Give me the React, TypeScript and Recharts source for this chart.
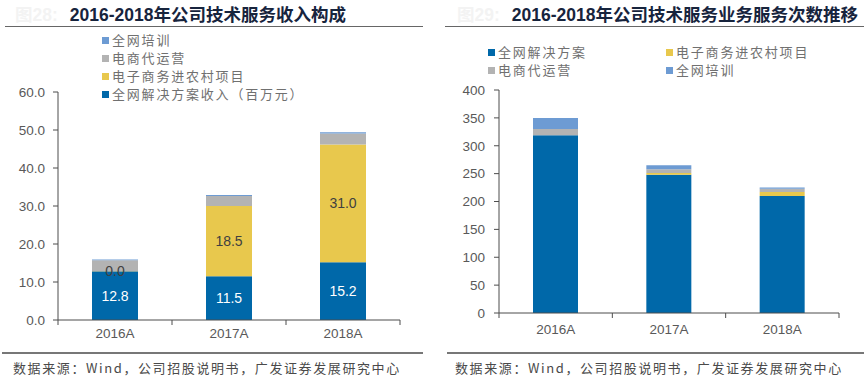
import React from "react";
import { Bar, BarChart, LabelList, XAxis, YAxis } from "recharts";

const years = ["2016A", "2017A", "2018A"];

// 收入构成（百万元）
const revSolution = [12.8, 11.5, 15.2];
const revRural = [0.0, 18.5, 31.0];
const revOperation = [2.9, 2.6, 2.9];
const revTraining = [0.2, 0.3, 0.3];
const revTicks = [0, 10, 20, 30, 40, 50, 60];

// 服务次数
const cntSolution = [319, 248, 210];
const cntRural = [0, 3, 7];
const cntOperation = [11, 7, 6];
const cntTraining = [20, 7, 2];
const cntTicks = [0, 50, 100, 150, 200, 250, 300, 350, 400];

const COLORS = {
  solution: "#0068a9",
  rural: "#e8c84d",
  operation: "#b3b3b3",
  training: "#6d9bd3",
};

const AXIS = "#4d4d4d";
const TICK_TEXT = "#595959";
const LATIN = "'Liberation Sans', Arial, sans-serif";
const CJK = "'Noto Sans CJK SC', sans-serif";

const revData = years.map((year, i) => ({
  year,
  solution: revSolution[i],
  rural: revRural[i],
  operation: revOperation[i],
  training: revTraining[i],
}));

const cntData = years.map((year, i) => ({
  year,
  solution: cntSolution[i],
  rural: cntRural[i],
  operation: cntOperation[i],
  training: cntTraining[i],
}));

type LegendItem = { label: string; color: string };

const revLegend: LegendItem[] = [
  { label: "全网培训", color: COLORS.training },
  { label: "电商代运营", color: COLORS.operation },
  { label: "电子商务进农村项目", color: COLORS.rural },
  { label: "全网解决方案收入（百万元）", color: COLORS.solution },
];

const cntLegend: LegendItem[] = [
  { label: "全网解决方案", color: COLORS.solution },
  { label: "电子商务进农村项目", color: COLORS.rural },
  { label: "电商代运营", color: COLORS.operation },
  { label: "全网培训", color: COLORS.training },
];

const SOURCE = "数据来源：Wind，公司招股说明书，广发证券发展研究中心";

function LegendRow({ item }: { item: LegendItem }) {
  return (
    <div style={{ display: "flex", alignItems: "center", height: 18 }}>
      <span style={{ width: 7, height: 7, background: item.color, marginRight: 3 }} />
      <span style={{ fontFamily: CJK, fontSize: 13, color: "#707070", letterSpacing: 1.8, lineHeight: "18px" }}>
        {item.label}
      </span>
    </div>
  );
}

function CategoryTick(props: any) {
  const { x, y, payload, index, visibleTicksCount, width } = props;
  const band = width / visibleTicksCount;
  const last = index === visibleTicksCount - 1;
  return (
    <g>
      <line x1={x - band / 2} y1={y} x2={x - band / 2} y2={y + 5} stroke={AXIS} />
      {last ? <line x1={x + band / 2} y1={y} x2={x + band / 2} y2={y + 5} stroke={AXIS} /> : null}
      <text x={x} y={y + props.labelDy} textAnchor="middle" fill={TICK_TEXT} fontSize={13.5} fontFamily={LATIN}>
        {payload.value}
      </text>
    </g>
  );
}

function Title({ left, title, prefix }: { left: number; title: string; prefix: string }) {
  return (
    <div
      style={{
        position: "absolute",
        left,
        top: 4,
        fontFamily: "'Liberation Sans', " + CJK,
        fontWeight: 700,
        fontSize: 17.5,
        lineHeight: "22px",
        color: "#17243d",
        whiteSpace: "nowrap",
      }}
    >
      <span style={{ color: "#f3f3f3", marginRight: 12 }}>{prefix}</span>
      {title}
    </div>
  );
}

function Source({ left }: { left: number }) {
  return (
    <div
      style={{
        position: "absolute",
        left,
        top: 359,
        fontFamily: CJK,
        fontSize: 13,
        lineHeight: "18px",
        letterSpacing: 1.6,
        color: "#4a4a4a",
        whiteSpace: "nowrap",
      }}
    >
      {SOURCE}
    </div>
  );
}

const fmt1 = (v: number) => v.toFixed(1);

export default function App() {
  return (
    <div style={{ position: "absolute", left: 0, top: 0, width: 864, height: 381, background: "#fff", overflow: "hidden" }}>
      <Title left={15} title="2016-2018年公司技术服务收入构成" prefix="图28:" />
      <Title left={457} title="2016-2018年公司技术服务业务服务次数推移" prefix="图29:" />
      <div style={{ position: "absolute", left: 5, top: 26, width: 418, height: 1, background: "#666" }} />
      <div style={{ position: "absolute", left: 445, top: 26, width: 419, height: 1, background: "#666" }} />
      <div style={{ position: "absolute", left: 2, top: 352, width: 421, height: 1.5, background: "#777" }} />
      <div style={{ position: "absolute", left: 447, top: 352, width: 417, height: 1.5, background: "#777" }} />
      <Source left={13} />
      <Source left={455} />

      <div style={{ position: "absolute", left: 0, top: 0 }}>
        <BarChart width={432} height={381} data={revData} margin={{ top: 92, right: 32, bottom: 31, left: 0 }}>
          <XAxis
            dataKey="year"
            axisLine={{ stroke: AXIS }}
            tickLine={false}
            tickSize={0}
            tickMargin={0}
            interval={0}
            height={30}
            tick={<CategoryTick labelDy={18} />}
          />
          <YAxis
            width={58}
            domain={[0, 60]}
            ticks={revTicks}
            interval={0}
            tickFormatter={fmt1}
            axisLine={{ stroke: AXIS }}
            tickLine={{ stroke: AXIS }}
            tickSize={5}
            tickMargin={8}
            tick={{ fill: TICK_TEXT, fontSize: 13.5, fontFamily: LATIN }}
          />
          <Bar dataKey="solution" stackId="a" fill={COLORS.solution} barSize={46} isAnimationActive={false}>
            <LabelList dataKey="solution" position="center" fill="#ffffff" fontSize={14} fontFamily={LATIN} formatter={fmt1} />
          </Bar>
          <Bar dataKey="rural" stackId="a" fill={COLORS.rural} barSize={46} minPointSize={1} isAnimationActive={false}>
            <LabelList dataKey="rural" position="center" fill="#404040" fontSize={14} fontFamily={LATIN} formatter={fmt1} />
          </Bar>
          <Bar dataKey="operation" stackId="a" fill={COLORS.operation} barSize={46} isAnimationActive={false} />
          <Bar dataKey="training" stackId="a" fill={COLORS.training} barSize={46} isAnimationActive={false} />
        </BarChart>
      </div>

      <div style={{ position: "absolute", left: 432, top: 0 }}>
        <BarChart width={432} height={381} data={cntData} margin={{ top: 90, right: 25, bottom: 38, left: 0 }}>
          <XAxis
            dataKey="year"
            axisLine={{ stroke: AXIS }}
            tickLine={false}
            tickSize={0}
            tickMargin={0}
            interval={0}
            height={30}
            tick={<CategoryTick labelDy={21} />}
          />
          <YAxis
            width={67}
            domain={[0, 400]}
            ticks={cntTicks}
            interval={0}
            axisLine={{ stroke: AXIS }}
            tickLine={{ stroke: AXIS }}
            tickSize={5}
            tickMargin={9}
            tick={{ fill: TICK_TEXT, fontSize: 13.5, fontFamily: LATIN }}
          />
          <Bar dataKey="solution" stackId="b" fill={COLORS.solution} barSize={45} isAnimationActive={false} />
          <Bar dataKey="rural" stackId="b" fill={COLORS.rural} barSize={45} isAnimationActive={false} />
          <Bar dataKey="operation" stackId="b" fill={COLORS.operation} barSize={45} isAnimationActive={false} />
          <Bar dataKey="training" stackId="b" fill={COLORS.training} barSize={45} isAnimationActive={false} />
        </BarChart>
      </div>

      <div style={{ position: "absolute", left: 102, top: 31 }}>
        {revLegend.map((item) => (
          <LegendRow key={item.label} item={item} />
        ))}
      </div>
      <div style={{ position: "absolute", left: 488, top: 43, display: "grid", gridTemplateColumns: "178px 178px" }}>
        {cntLegend.map((item) => (
          <LegendRow key={item.label} item={item} />
        ))}
      </div>
    </div>
  );
}
